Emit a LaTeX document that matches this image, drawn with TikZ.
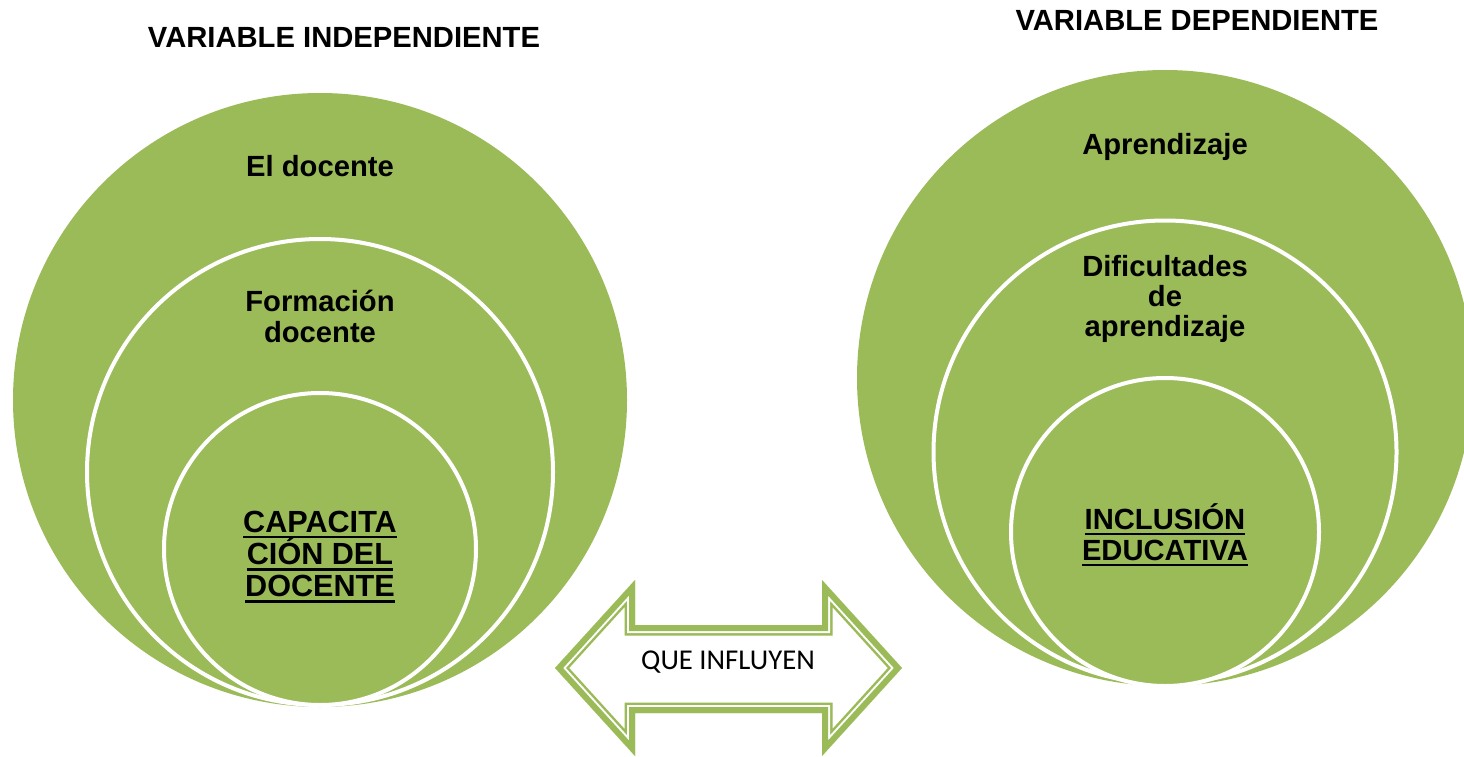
\documentclass[tikz,border=0pt]{standalone}
\usepackage{fontspec}
\setmainfont{Liberation Sans}
\newfontfamily\calib{Carlito}
\definecolor{olv}{HTML}{9BBB59}
\newcommand\stk[2][31]{\vtop{\baselineskip=#1pt\lineskiplimit=-50pt\lineskip=0pt\halign{\hfil##\hfil\cr#2\crcr}}}
\newcommand\ulx[1]{\setbox0\hbox{#1}\rlap{\raisebox{-6.3pt}[0pt][0pt]{\rule{\wd0}{2.6pt}}}\box0}
\begin{document}
\begin{tikzpicture}[x=1pt,y=-1pt,
  disc/.style={circle, fill=olv, inner sep=0pt, outer sep=0pt},
  ring/.style={disc, draw=white, line width=4pt},
  lbl/.style={font=\bfseries\fontsize{29.2}{31}\selectfont, anchor=base, inner sep=0pt, text=black},
  biglbl/.style={lbl, font=\bfseries\fontsize{30.6}{32.5}\selectfont},
  qlbl/.style={font=\calib\fontsize{28.7}{30}\selectfont, anchor=base, inner sep=0pt, text=black}]
\useasboundingbox (0,0) rectangle (1464,757);
\clip (0,0) rectangle (1464,757);
% left nested circles
\node[disc, minimum size=614pt] (L1) at (320,400) {};
\node[ring, minimum size=466pt] (L2) at (320,472) {};
\node[ring, minimum size=312pt] (L3) at (320,549) {};
% right nested circles
\node[disc, minimum size=616pt] (R1) at (1165,378) {};
\node[ring, minimum size=463pt] (R2) at (1165,452) {};
\node[ring, minimum size=308pt] (R3) at (1165,532) {};
% headings
\node[lbl] (h1) at (344,48) {VARIABLE INDEPENDIENTE};
\node[lbl] (h2) at (1197,31) {VARIABLE DEPENDIENTE};
% left texts
\node[lbl] (t1) at (320,176) {El docente};
\node[lbl] (t2) at (320,311) {\stk{Formación\cr docente}};
\node[biglbl] (t3) at (320,532) {\stk[32.2]{\ulx{CAPACITA}\cr\ulx{CIÓN DEL}\cr\ulx{DOCENTE}}};
% right texts
\node[lbl] (r1) at (1165,154) {Aprendizaje};
\node[lbl] (r2) at (1165,276) {\stk[30]{Dificultades\cr de\cr aprendizaje}};
\node[lbl] (r3) at (1165,529) {\stk{\ulx{INCLUSIÓN}\cr\ulx{EDUCATIVA}}};
% double arrow
\def\arrowpath{(555,668) -- (635,580) -- (635,625) -- (822,625) -- (822,580) -- (902,668) -- (822,756) -- (822,713) -- (635,713) -- (635,756) -- cycle}
\begin{scope}
\clip \arrowpath;
\fill[white] \arrowpath;
\draw[olv, line width=21pt, line join=miter] \arrowpath;
\draw[white, line width=16pt, line join=miter] \arrowpath;
\draw[olv, line width=12pt, line join=miter] \arrowpath;
\end{scope}
\node[qlbl] (q) at (728,669) {QUE INFLUYEN};
\end{tikzpicture}
\end{document}
